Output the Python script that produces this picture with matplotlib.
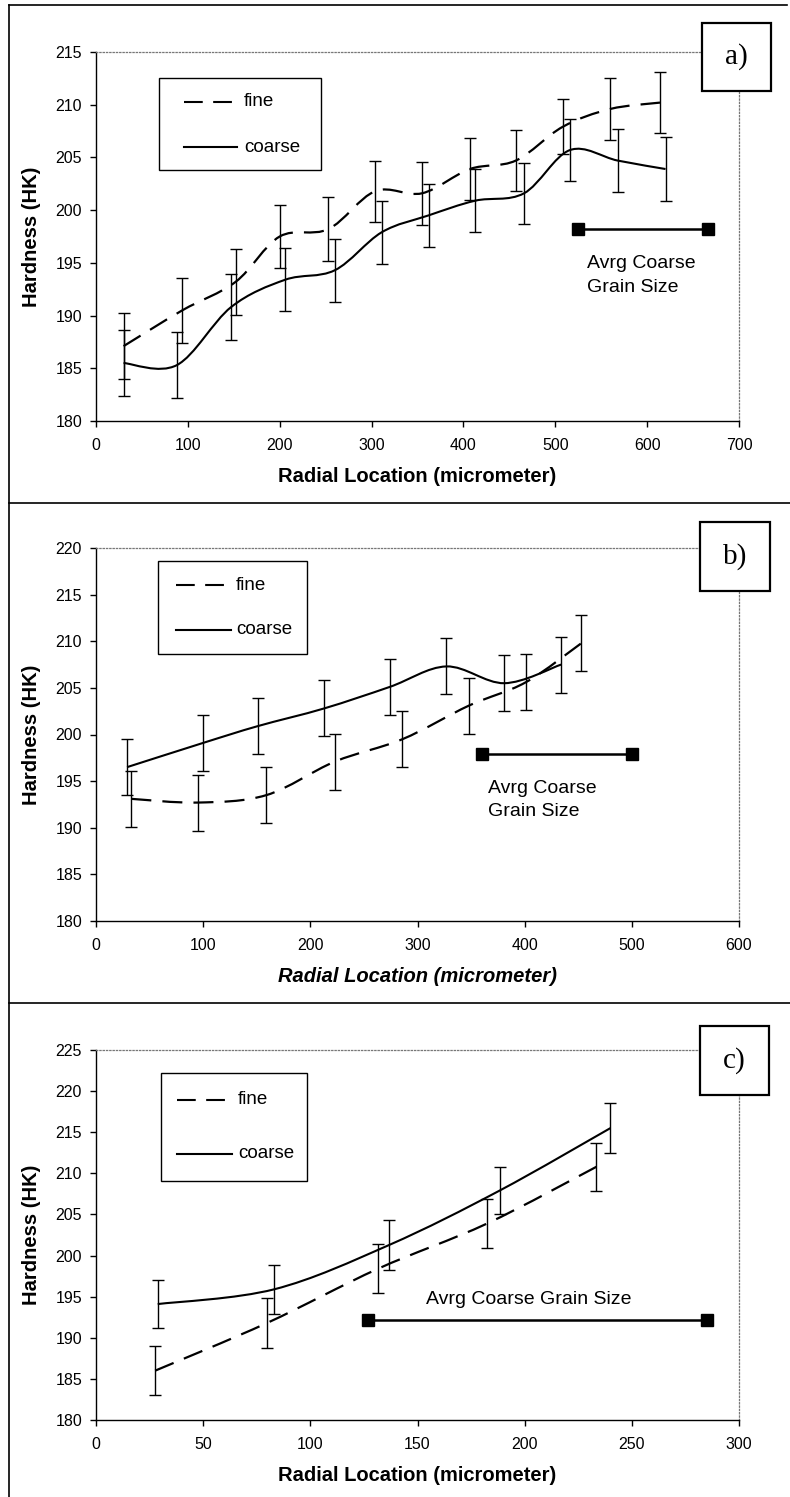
import numpy as np
import matplotlib
matplotlib.use("Agg")
import matplotlib.pyplot as plt
from matplotlib.path import Path
from matplotlib.patches import PathPatch, Rectangle
from matplotlib.lines import Line2D

plt.rcParams["font.family"] = ["Liberation Sans", "DejaVu Sans"]

# ------------------------------
# Data
# ------------------------------
# a)
a_fine_x = [30, 94, 152, 200, 253, 304, 355, 407, 457, 508, 560, 614]
a_fine_y = [187.1, 190.5, 193.2, 197.5, 198.2, 201.8, 201.6, 203.9, 204.7, 207.9, 209.6, 210.2]
a_fine_err = [3.1, 3.1, 3.1, 3.0, 3.0, 2.9, 3.0, 2.9, 2.9, 2.6, 2.9, 2.9]
a_coarse_x = [30, 88, 147, 206, 260, 311, 362, 413, 466, 516, 568, 620]
a_coarse_y = [185.5, 185.3, 190.8, 193.4, 194.3, 197.9, 199.5, 200.9, 201.6, 205.7, 204.7, 203.9]
a_coarse_err = [3.1, 3.1, 3.1, 3.0, 3.0, 3.0, 3.0, 3.0, 2.9, 2.9, 3.0, 3.0]
a_grain_x = [525, 666]
a_grain_y = [198.2, 198.2]

# b)
b_fine_x = [33, 95, 159, 223, 286, 348, 401, 453]
b_fine_y = [193.1, 192.7, 193.5, 197.1, 199.5, 203.1, 205.6, 209.8]
b_fine_err = [3.0, 3.0, 3.0, 3.0, 3.0, 3.0, 3.0, 3.0]
b_coarse_x = [29, 100, 151, 213, 274, 327, 381, 434]
b_coarse_y = [196.5, 199.1, 200.9, 202.8, 205.1, 207.3, 205.5, 207.5]
b_coarse_err = [3.0, 3.0, 3.0, 3.0, 3.0, 3.0, 3.0, 3.0]
b_grain_x = [360, 500]
b_grain_y = [197.9, 197.9]

# c)
c_fine_x = [27.6, 79.8, 131.6, 182.5, 233.5]
c_fine_y = [186.0, 191.8, 198.4, 203.9, 210.8]
c_fine_err = [3.0, 3.0, 3.0, 3.0, 2.9]
c_coarse_x = [28.8, 83.2, 136.9, 188.3, 240.0]
c_coarse_y = [194.1, 195.9, 201.3, 207.9, 215.5]
c_coarse_err = [2.9, 3.0, 3.0, 2.9, 3.0]
c_grain_x = [127, 285]
c_grain_y = [192.2, 192.2]

series_names = ["fine", "coarse"]

W, H = 790, 1497
fig = plt.figure(figsize=(W / 100, H / 100), dpi=100)

DASH = (0, (9, 5))


def fx(px):
    return px / W


def fy(py):
    return 1 - py / H


def smooth_path(x, y):
    # Excel style smoothed line: cubic bezier through every point
    p = np.column_stack([x, y]).astype(float)
    n = len(p)
    verts = [p[0]]
    codes = [Path.MOVETO]
    for i in range(n - 1):
        p0 = p[max(i - 1, 0)]
        p1 = p[i]
        p2 = p[i + 1]
        p3 = p[min(i + 2, n - 1)]
        verts += [p1 + (p2 - p0) / 6, p2 - (p3 - p1) / 6, p2]
        codes += [Path.CURVE4] * 3
    return Path(verts, codes)


def legend_box(box, rows, handle, text_x):
    # Excel-like legend drawn in figure pixels
    l, t, r, b = box
    fig.add_artist(Rectangle((fx(l), fy(b)), fx(r - l), (b - t) / H,
                             transform=fig.transFigure, facecolor="white",
                             edgecolor="black", lw=1.0, zorder=10))
    for name, row, ls in zip(series_names, rows, [DASH, "-"]):
        fig.add_artist(Line2D([fx(l + handle[0]), fx(l + handle[1])], [fy(row), fy(row)],
                              transform=fig.transFigure, color="black", lw=1.5,
                              linestyle=ls, zorder=11))
        fig.text(fx(l + text_x), fy(row), name, fontsize=13.5, ha="left",
                 va="center", zorder=11)


def panel(box, xmax, xstep, ymax, fine, coarse, grain, note, note_xy,
          note_ha, tag, tag_box, italic=False):
    l, t, r, b = box
    ax = fig.add_axes([fx(l), fy(b), fx(r - l), (b - t) / H])
    ax.set_xlim(0, xmax)
    ax.set_ylim(180, ymax)
    ax.set_xticks(np.arange(0, xmax + 1, xstep))
    ax.set_yticks(np.arange(180, ymax + 1, 5))
    ax.tick_params(direction="out", length=4, width=1, labelsize=11.5, colors="black")
    ax.tick_params(axis="x", pad=8)
    ax.tick_params(axis="y", pad=6)
    for s in ["left", "bottom"]:
        ax.spines[s].set_color("black")
        ax.spines[s].set_linewidth(1.0)
    for s in ["top", "right"]:
        ax.spines[s].set_color("#777777")
        ax.spines[s].set_linestyle(":")
        ax.spines[s].set_linewidth(0.9)

    fxs, fys, fe = fine
    cxs, cys, ce = coarse
    ax.add_patch(PathPatch(smooth_path(fxs, fys), fill=False, color="black",
                           lw=1.6, linestyle=DASH))
    ax.add_patch(PathPatch(smooth_path(cxs, cys), fill=False, color="black", lw=1.5))
    ax.errorbar(fxs, fys, yerr=fe, fmt="none", ecolor="black", elinewidth=1.0,
                capsize=4, capthick=1.0)
    ax.errorbar(cxs, cys, yerr=ce, fmt="none", ecolor="black", elinewidth=1.0,
                capsize=4, capthick=1.0)

    gx, gy = grain
    ax.plot(gx, gy, color="black", lw=1.8, marker="s", markersize=8.5,
            clip_on=False)
    ax.text(note_xy[0], note_xy[1], note, fontsize=14, ha=note_ha, va="center",
            linespacing=1.5)

    style = "italic" if italic else "normal"
    ax.set_xlabel("Radial Location (micrometer)", fontsize=14.5, fontweight="bold",
                  fontstyle=style, labelpad=10)
    ax.set_ylabel("Hardness (HK)", fontsize=14.5, fontweight="bold", labelpad=10)

    tl, tt, tr, tb = tag_box
    fig.add_artist(Rectangle((fx(tl), fy(tb)), fx(tr - tl), (tb - tt) / H,
                             transform=fig.transFigure, facecolor="white",
                             edgecolor="black", lw=1.6, zorder=10))
    fig.text(fx((tl + tr) / 2), fy((tt + tb) / 2), tag, fontsize=21,
             family=["Liberation Serif", "DejaVu Serif"], ha="center",
             va="center", zorder=11)
    return ax


panel((96, 52, 739, 421), 700, 100, 215,
      (a_fine_x, a_fine_y, a_fine_err), (a_coarse_x, a_coarse_y, a_coarse_err),
      (a_grain_x, a_grain_y), "Avrg Coarse\nGrain Size", (534, 193.8), "left",
      "a)", (702, 23, 771, 91))
legend_box((159, 78, 321, 170), (102, 147), (25, 78), 85)

panel((96, 548, 739, 921), 600, 100, 220,
      (b_fine_x, b_fine_y, b_fine_err), (b_coarse_x, b_coarse_y, b_coarse_err),
      (b_grain_x, b_grain_y), "Avrg Coarse\nGrain Size", (366, 193.0), "left",
      "b)", (700, 522, 770, 591), italic=True)
legend_box((158, 561, 307, 654), (585, 630), (18, 73), 78)

panel((96, 1050, 739, 1420), 300, 50, 225,
      (c_fine_x, c_fine_y, c_fine_err), (c_coarse_x, c_coarse_y, c_coarse_err),
      (c_grain_x, c_grain_y), "Avrg Coarse Grain Size", (202, 194.6), "center",
      "c)", (700, 1026, 769, 1095))
legend_box((161, 1073, 307, 1181), (1100, 1154), (16, 71), 77)

# page frame lines around the three panels
for (x0, y0, x1, y1) in [(9, 5, 787, 5), (9, 5, 9, 1497), (9, 503, 790, 503),
                         (9, 1003, 790, 1003)]:
    fig.add_artist(Line2D([fx(x0), fx(x1)], [fy(y0), fy(y1)],
                          transform=fig.transFigure, color="black", lw=1.2))

fig.savefig("out.png", dpi=100)
